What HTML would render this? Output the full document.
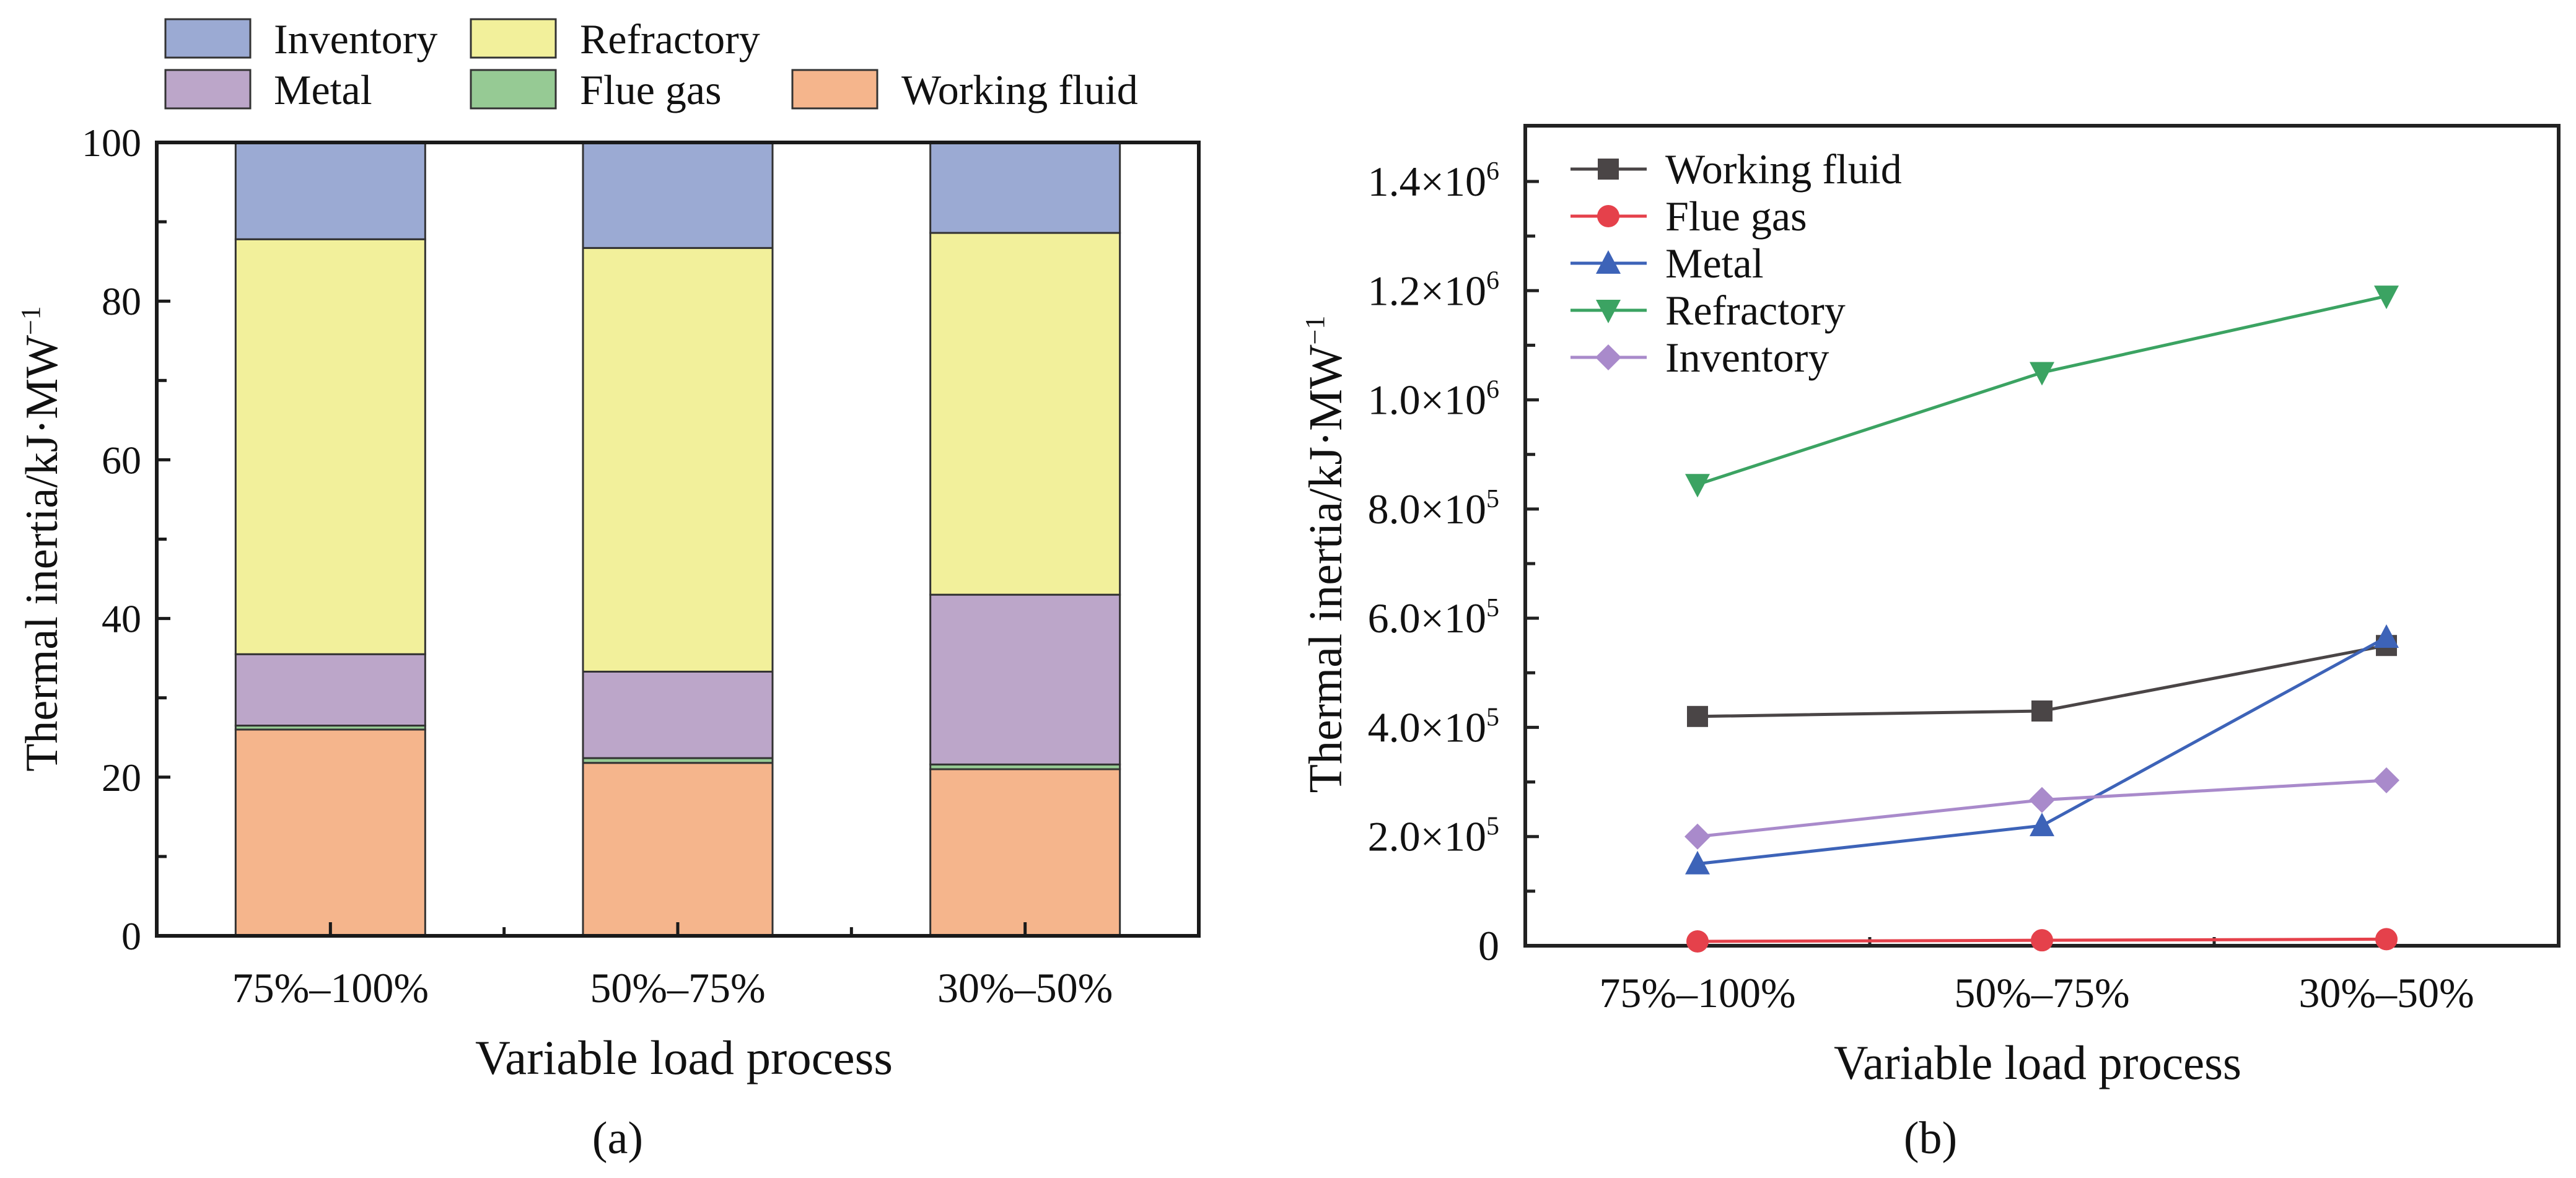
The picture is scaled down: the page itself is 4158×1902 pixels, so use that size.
<!DOCTYPE html>
<html><head><meta charset="utf-8"><style>
html,body{margin:0;padding:0;background:#fff}
svg{display:block}
text{font-family:"Liberation Serif","Times New Roman",serif;fill:#111}
</style></head><body>
<svg id="fig" width="4158" height="1902" viewBox="0 0 4158 1902" xmlns="http://www.w3.org/2000/svg">
<g id="chartA"></g>
<g id="chartB"></g>
</svg>
<script>
const categories = ["75%–100%", "50%–75%", "30%–50%"];
// Chart (a): percentage shares
const workingFluidPct = [26.0, 21.8, 21.0];
const flueGasPct = [0.5, 0.6, 0.6];
const metalPct = [9.0, 10.9, 21.4];
const refractoryPct = [52.3, 53.4, 45.6];
const inventoryPct = [12.2, 13.3, 11.4];
const yTicksA = [0, 20, 40, 60, 80, 100];
// Chart (b): absolute thermal inertia
const workingFluidVal = [420000, 430000, 550000];
const flueGasVal = [8000, 10000, 12000];
const metalVal = [150000, 220000, 565000];
const refractoryVal = [845000, 1050000, 1190000];
const inventoryVal = [200000, 267000, 303000];
const yTicksB = [0, 200000, 400000, 600000, 800000, 1000000, 1200000, 1400000];
const yTickLabelsB = ["0", "2.0×10|5", "4.0×10|5", "6.0×10|5", "8.0×10|5", "1.0×10|6", "1.2×10|6", "1.4×10|6"];

const NS = "http://www.w3.org/2000/svg";
function mk(tag, attrs, parent, txt){
  const e = document.createElementNS(NS, tag);
  for (const k in attrs) e.setAttribute(k, attrs[k]);
  if (txt !== undefined) e.textContent = txt;
  parent.appendChild(e);
  return e;
}

// ---------- Chart A ----------
(function(){
  const g = document.getElementById('chartA');
  const L=253, R=1935, T=230, B=1511;
  const band=(R-L)/categories.length, bw=306;
  const y = v => B - (v/100)*(B-T);
  const xc = i => L + band*(i+0.5);
  const series = [
    {name:"working-fluid", vals:workingFluidPct, col:"#f5b58c"},
    {name:"flue-gas", vals:flueGasPct, col:"#96ca94"},
    {name:"metal", vals:metalPct, col:"#bca6c9"},
    {name:"refractory", vals:refractoryPct, col:"#f2f09b"},
    {name:"inventory", vals:inventoryPct, col:"#9baad3"}
  ];
  categories.forEach((c,i)=>{
    let acc=0;
    series.forEach(s=>{
      const v=s.vals[i];
      const r = mk('rect',{x:xc(i)-bw/2, y:y(acc+v), width:bw, height:y(acc)-y(acc+v), fill:s.col, stroke:"#333", 'stroke-width':3}, g);
      
      
      acc+=v;
    });
  });
  const ax = mk('rect',{x:L,y:T,width:R-L,height:B-T,fill:"none",stroke:"#1a1a1a",'stroke-width':6},g);
   
  for(let v=0; v<=100; v+=10){
    const len = (v%20===0)?22:16;
    mk('line',{x1:L,x2:L+len,y1:y(v),y2:y(v),stroke:"#1a1a1a",'stroke-width':5},g);
  }
  yTicksA.forEach(v=>{
    const t = mk('text',{x:L-25,y:y(v)+22,'text-anchor':'end','font-size':64},g,String(v));
     
  });
  categories.forEach((c,i)=>{
    mk('line',{x1:xc(i),x2:xc(i),y1:B,y2:B-22,stroke:"#1a1a1a",'stroke-width':5},g);
    if(i>0) mk('line',{x1:L+band*i,x2:L+band*i,y1:B,y2:B-14,stroke:"#1a1a1a",'stroke-width':5},g);
    const t = mk('text',{x:xc(i),y:1618,'text-anchor':'middle','font-size':68},g,c);
     
  });
  const xt = mk('text',{x:1104,y:1734,'text-anchor':'middle','font-size':78,textLength:674,lengthAdjust:'spacingAndGlyphs'},g,"Variable load process");
   
  const yt = mk('text',{x:0,y:0,'text-anchor':'middle','font-size':74,transform:"translate(92,870) rotate(-90)"},g);
   
  yt.innerHTML = 'Thermal inertia/kJ·MW<tspan dy="-28" font-size="44">−1</tspan>';
  const cap = mk('text',{x:997,y:1862,'text-anchor':'middle','font-size':74},g,"(a)");
   
  const leg = [
    {n:"Inventory",c:"#9baad3",x:267,tx:442,y:31},
    {n:"Refractory",c:"#f2f09b",x:760,tx:936,y:31},
    {n:"Metal",c:"#bca6c9",x:267,tx:442,y:113},
    {n:"Flue gas",c:"#96ca94",x:760,tx:936,y:113},
    {n:"Working fluid",c:"#f5b58c",x:1279,tx:1455,y:113}
  ];
  leg.forEach(l=>{
    const gg = mk('g',{},g);
    
    
    mk('rect',{x:l.x,y:l.y,width:137,height:62,fill:l.c,stroke:"#333",'stroke-width':3},gg);
    mk('text',{x:l.tx,y:l.y+55,'font-size':68},gg,l.n);
  });
})();

// ---------- Chart B ----------
(function(){
  const g = document.getElementById('chartB');
  const L=2462, R=4130, T=203, B=1527;
  const band=(R-L)/categories.length;
  const y = v => B - (v/1400000)*(B-293);
  const xc = i => L + band*(i+0.5);
  const ax = mk('rect',{x:L,y:T,width:R-L,height:B-T,fill:"none",stroke:"#222",'stroke-width':6},g);
   
  for(let v=0; v<=1500000; v+=100000){
    if(y(v)<T+5) continue;
    const len = (v%200000===0)?22:16;
    mk('line',{x1:L,x2:L+len,y1:y(v),y2:y(v),stroke:"#222",'stroke-width':5},g);
  }
  yTicksB.forEach((v,i)=>{
    const parts = yTickLabelsB[i].split('|');
    const t = mk('text',{x:2420,y:y(v)+23,'text-anchor':'end','font-size':68},g);
     
    if(parts.length>1) t.innerHTML = parts[0]+'<tspan dy="-26" font-size="42">'+parts[1]+'</tspan>';
    else t.textContent = parts[0];
  });
  categories.forEach((c,i)=>{
    mk('line',{x1:xc(i),x2:xc(i),y1:B,y2:B-22,stroke:"#222",'stroke-width':5},g);
    if(i>0) mk('line',{x1:L+band*i,x2:L+band*i,y1:B,y2:B-14,stroke:"#222",'stroke-width':5},g);
    const t = mk('text',{x:xc(i),y:1626,'text-anchor':'middle','font-size':68},g,c);
     
  });
  const xt = mk('text',{x:3289,y:1742,'text-anchor':'middle','font-size':78,textLength:658,lengthAdjust:'spacingAndGlyphs'},g,"Variable load process");
   
  const yt = mk('text',{x:0,y:0,'text-anchor':'middle','font-size':76,transform:"translate(2165,895) rotate(-90)"},g);
   
  yt.innerHTML = 'Thermal inertia/kJ·MW<tspan dy="-28" font-size="44">−1</tspan>';
  const cap = mk('text',{x:3116,y:1862,'text-anchor':'middle','font-size':74},g,"(b)");
   

  function marker(parent, type, cx, cy, col){
    const s=17;
    if(type==='square') return mk('rect',{x:cx-s,y:cy-s,width:2*s,height:2*s,fill:col},parent);
    if(type==='circle') return mk('circle',{cx:cx,cy:cy,r:s+1,fill:col},parent);
    if(type==='up') return mk('polygon',{points:`${cx},${cy-s-4} ${cx+s+3},${cy+s} ${cx-s-3},${cy+s}`,fill:col},parent);
    if(type==='down') return mk('polygon',{points:`${cx},${cy+s+4} ${cx+s+3},${cy-s} ${cx-s-3},${cy-s}`,fill:col},parent);
    if(type==='diamond') return mk('polygon',{points:`${cx},${cy-s-4} ${cx+s+4},${cy} ${cx},${cy+s+4} ${cx-s-4},${cy}`,fill:col},parent);
  }
  const series = [
    {n:"Working fluid",v:workingFluidVal,c:"#4a4546",m:'square'},
    {n:"Flue gas",v:flueGasVal,c:"#e5414b",m:'circle'},
    {n:"Metal",v:metalVal,c:"#3d63b8",m:'up'},
    {n:"Refractory",v:refractoryVal,c:"#3ba362",m:'down'},
    {n:"Inventory",v:inventoryVal,c:"#a98acb",m:'diamond'}
  ];
  series.forEach((s,k)=>{
    const gg = mk('g',{},g);
    
    
    const pts = s.v.map((v,i)=>xc(i)+','+y(v)).join(' ');
    mk('polyline',{points:pts,fill:'none',stroke:s.c,'stroke-width':5},gg);
    s.v.forEach((v,i)=>{
      const m = marker(gg,s.m,xc(i),y(v),s.c);
      
      
    });
    const ly = 273 + k*76;
    const lg = mk('g',{},g);
    
    
    mk('line',{x1:2535,x2:2658,y1:ly,y2:ly,stroke:s.c,'stroke-width':5},lg);
    marker(lg,s.m,2596,ly,s.c);
    mk('text',{x:2688,y:ly+23,'font-size':68},lg,s.n);
  });
})();
</script>
</body></html>
